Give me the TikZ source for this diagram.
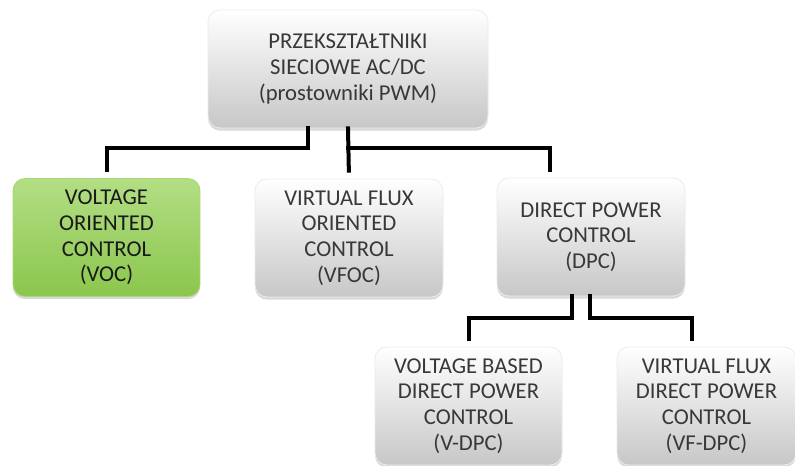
\documentclass[tikz,border=0pt]{standalone}
\usepackage{fontspec}
\setmainfont{Carlito}
\usetikzlibrary{shadows,calc}
\definecolor{boxgreen}{HTML}{92D050}
\begin{document}
\begin{tikzpicture}[x=0.75pt,y=-0.75pt,
  box/.style={rounded corners=9pt, minimum width=#1*0.75pt, minimum height=118*0.75pt,
    align=center, inner sep=0pt, font=\fontsize{17}{19.3}\selectfont, text=black!78,
    top color=white, bottom color=black!22, draw=black!8, line width=0.6pt,
    drop shadow={shadow xshift=0pt, shadow yshift=-2pt, opacity=0.25, fill=black!60}},
  greenbox/.style={box=#1, top color=boxgreen!70!white, bottom color=boxgreen!95!black, draw=boxgreen!80!white, text=black!90},
  conn/.style={line width=3pt, black, line join=miter, line cap=rect}]
\useasboundingbox (0,0) rectangle (795,466);
\node[box=280] (top) at (348,69) {PRZEKSZTAŁTNIKI\\SIECIOWE AC/DC\\(prostowniki PWM)};
\node[greenbox=187] (voc) at (106.5,237.5) {VOLTAGE\\ORIENTED\\CONTROL\\(VOC)};
\node[box=188] (vfoc) at (349,238) {VIRTUAL FLUX\\ORIENTED\\CONTROL\\(VFOC)};
\node[box=188] (dpc) at (591,237) {DIRECT POWER\\CONTROL\\(DPC)};
\node[box=187] (vdpc) at (468.5,406) {VOLTAGE BASED\\DIRECT POWER\\CONTROL\\(V-DPC)};
\node[box=179] (vfdpc) at (706.5,406) {VIRTUAL FLUX\\DIRECT POWER\\CONTROL\\(VF-DPC)};
\coordinate (j1) at (308,148);
\coordinate (j2) at (348,148);
\coordinate (e2) at (550,148);
\coordinate (j3) at (572,318);
\coordinate (j4) at (590,318);
\coordinate (e4) at (692,318);
\draw[conn, shorten >=8pt*0.75] (top.south -| j1) -- (j1) -| (voc.north);
\draw[conn, shorten >=8pt*0.75] (top.south) -- (vfoc.north);
\draw[conn, shorten >=8pt*0.75] (j2) -- (e2) -- (e2 |- dpc.north);
\draw[conn, shorten >=8pt*0.75] (dpc.south -| j3) -- (j3) -| (vdpc.north);
\draw[conn, shorten >=8pt*0.75] (dpc.south -| j4) -- (j4) -- (e4) -- (e4 |- vfdpc.north);
\end{tikzpicture}
\end{document}
